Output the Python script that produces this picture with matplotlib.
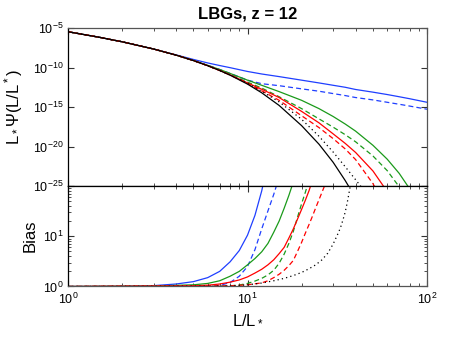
import numpy as np
import matplotlib
matplotlib.use("Agg")
import matplotlib.pyplot as plt
from matplotlib.ticker import LogLocator, NullLocator, NullFormatter, FixedLocator, FixedFormatter

plt.rcParams['font.family'] = ['Liberation Sans', 'DejaVu Sans']
plt.rcParams['mathtext.fontset'] = 'custom'
plt.rcParams['mathtext.rm'] = 'Liberation Sans'
plt.rcParams['mathtext.it'] = 'Liberation Sans:italic'
plt.rcParams['mathtext.bf'] = 'Liberation Sans:bold'

nan = np.nan

# luminosity function, log10 values
L_lf = [1, 1.5, 2, 3, 4, 5, 6, 7, 8, 10, 12, 15, 20, 25, 30, 35, 40, 50, 60, 70, 80, 100]
lf_black = [-5.47, -6.18, -6.74, -7.66, -8.43, -9.12, -9.77, -10.38, -10.97, -12.1, -13.2,
            -14.8, -17.35, -19.7, -22.0, -24.3, -26.5, nan, nan, nan, nan, nan]
lf_black_dot = [-5.47, -6.18, -6.74, -7.66, -8.43, -9.12, -9.77, -10.38, -10.95, -12.0, -13.0,
                -14.35, -16.55, -18.7, -20.7, -22.55, -24.2, -27.0, nan, nan, nan, nan]
lf_red = [-5.47, -6.18, -6.74, -7.66, -8.43, -9.12, -9.77, -10.37, -10.93, -11.95, -12.75,
          -13.8, -15.55, -17.0, -18.4, -19.6, -20.75, -23.1, -25.7, nan, nan, nan]
lf_red_dash = [-5.47, -6.18, -6.74, -7.66, -8.43, -9.12, -9.77, -10.38, -10.95, -12.02, -12.95,
               -14.15, -16.1, -17.6, -19.0, -20.3, -21.65, -24.7, -28.0, nan, nan, nan]
lf_green = [-5.47, -6.18, -6.74, -7.66, -8.43, -9.12, -9.72, -10.25, -10.75, -11.6, -12.25,
            -13.05, -14.15, -15.2, -16.2, -17.15, -18.05, -19.85, -21.6, -23.4, -25.35, nan]
lf_green_dash = [-5.47, -6.18, -6.74, -7.66, -8.43, -9.12, -9.75, -10.32, -10.9, -11.85, -12.6,
                 -13.7, -15.2, -16.5, -17.55, -18.5, -19.4, -21.2, -23.05, -25.1, nan, nan]
lf_blue = [-5.47, -6.18, -6.74, -7.66, -8.40, -8.98, -9.42, -9.75, -10.02, -10.5, -10.82,
           -11.15, -11.6, -11.95, -12.25, -12.5, -12.78, -13.12, -13.42, -13.7, -13.95, -14.4]
lf_blue_dash = [-5.47, -6.18, -6.74, -7.66, -8.43, -9.12, -9.72, -10.25, -10.75, -11.6, -12.05,
                -12.3, -12.7, -13.0, -13.3, -13.55, -13.8, -14.1, -14.4, -14.65, -14.88, -15.28]

# bias, lower panel
L_b_blue = [1, 2, 3, 4, 5, 6, 7, 8, 9, 10, 11, 12, 13]
b_blue = [1.0, 1.01, 1.04, 1.12, 1.25, 1.5, 2.0, 3.1, 5.2, 10.5, 26, 80, 300]
L_b_blue_dash = [1, 4, 6, 7, 8, 9, 10, 11, 12, 13, 14, 15]
b_blue_dash = [1.0, 1.0, 1.02, 1.05, 1.2, 1.6, 2.5, 5.4, 14, 32, 68, 150]
L_b_green = [1, 3, 5, 6, 7, 8, 9, 10, 11, 12, 13, 14, 15, 16, 17, 18]
b_green = [1.0, 1.02, 1.08, 1.15, 1.3, 1.6, 2.0, 2.7, 3.6, 4.9, 7.2, 12, 20, 36, 65, 120]
L_b_green_dash = [1, 6, 8, 9, 10, 11, 12, 13, 14, 15, 16, 17, 18, 19, 20, 21, 22]
b_green_dash = [1.0, 1.01, 1.03, 1.07, 1.15, 1.28, 1.45, 1.7, 2.1, 2.9, 4.4, 7.2, 12.5, 24, 44, 75, 130]
L_b_red = [1, 5, 6, 7, 8, 9, 10, 11, 12, 13, 14, 15, 16, 17, 18, 19, 20, 21, 22, 23]
b_red = [1.0, 1.03, 1.06, 1.12, 1.22, 1.35, 1.55, 1.85, 2.2, 2.7, 3.4, 4.5, 6.0, 9.2, 14, 22, 34, 52, 80, 130]
L_b_red_dash = [1, 8, 10, 12, 13, 14, 15, 16, 17, 18, 19, 20, 21, 22, 23, 24, 25, 26, 27]
b_red_dash = [1.0, 1.03, 1.08, 1.18, 1.3, 1.5, 1.75, 2.1, 2.6, 3.3, 5.0, 7.5, 11.5, 17, 25, 37, 53, 75, 105]
L_b_black_dot = [1, 8, 10, 12, 14, 16, 18, 20, 22, 24, 26, 28, 30, 32, 33, 34, 35, 36, 37, 38]
b_black_dot = [1.0, 1.02, 1.08, 1.17, 1.3, 1.45, 1.65, 1.9, 2.25, 2.7, 3.4, 4.6, 7.0, 11.5, 15, 21, 30, 48, 82, 140]

blue = '#1f3fff'
green = '#1a9a1a'
red = '#ff0000'
dash = (4, 2.5)
dot = (1, 2.5)
lw = 0.9

fig = plt.figure(figsize=(4.71, 3.40), dpi=100)
ax1 = fig.add_axes([0.1444, 0.4529, 0.7622, 0.4647])
ax2 = fig.add_axes([0.1444, 0.1574, 0.7622, 0.2956])


def lf(v):
    return 10.0 ** np.array(v)


ax1.plot(L_lf, lf(lf_blue), color=blue, lw=lw)
ax1.plot(L_lf, lf(lf_blue_dash), color=blue, lw=lw, dashes=dash)
ax1.plot(L_lf, lf(lf_green), color=green, lw=lw)
ax1.plot(L_lf, lf(lf_green_dash), color=green, lw=lw, dashes=dash)
ax1.plot(L_lf, lf(lf_red), color=red, lw=lw)
ax1.plot(L_lf, lf(lf_red_dash), color=red, lw=lw, dashes=dash)
ax1.plot(L_lf, lf(lf_black), color='k', lw=lw)
ax1.plot(L_lf, lf(lf_black_dot), color='k', lw=lw, dashes=dot)

ax2.plot(L_b_blue, b_blue, color=blue, lw=lw)
ax2.plot(L_b_blue_dash, b_blue_dash, color=blue, lw=lw, dashes=dash)
ax2.plot(L_b_green, b_green, color=green, lw=lw)
ax2.plot(L_b_green_dash, b_green_dash, color=green, lw=lw, dashes=dash)
ax2.plot(L_b_red, b_red, color=red, lw=lw)
ax2.plot(L_b_red_dash, b_red_dash, color=red, lw=lw, dashes=dash)
ax2.plot(L_b_black_dot, b_black_dot, color='k', lw=lw, dashes=dot)

for ax in (ax1, ax2):
    ax.set_xscale('log')
    ax.set_yscale('log')
    ax.set_xlim(1, 100)
    ax.xaxis.set_minor_locator(LogLocator(base=10, subs=np.arange(2, 10)))
    ax.tick_params(which='both', direction='in', top=True, right=True,
                   labelsize=9, color='#333333')
    ax.tick_params(which='major', length=4)
    ax.tick_params(which='minor', length=2)
    for s in ax.spines.values():
        s.set_color('#555555')
        s.set_linewidth(0.9)
    ax.spines['left'].set_color('k')

ax1.set_ylim(1e-25, 1e-5)
ax1.yaxis.set_major_locator(FixedLocator([1e-25, 1e-20, 1e-15, 1e-10, 1e-5]))
ax1.yaxis.set_minor_locator(NullLocator())
ax1.xaxis.set_major_formatter(NullFormatter())
ax1.spines['bottom'].set_color('k')

ax2.set_ylim(1, 100)
ax2.yaxis.set_major_locator(FixedLocator([1, 10, 100]))
ax2.yaxis.set_major_formatter(FixedFormatter([r'$10^0$', r'$10^1$', '']))
ax2.yaxis.set_minor_locator(LogLocator(base=10, subs=np.arange(2, 10)))
ax2.yaxis.set_minor_formatter(NullFormatter())
ax2.spines['top'].set_color('k')

ax1.set_title('LBGs, z = 12', fontsize=12, fontweight='bold', pad=6.5)
ax1.set_ylabel('L$_*$Ψ(L/L$^*$)', fontsize=12)
ax1.yaxis.set_label_coords(-0.12, 0.5)
ax2.set_ylabel('Bias', fontsize=12)
ax2.yaxis.set_label_coords(-0.086, 0.5)
ax2.set_xlabel('L/L$_*$', fontsize=12)

fig.savefig('out.png', dpi=100)
